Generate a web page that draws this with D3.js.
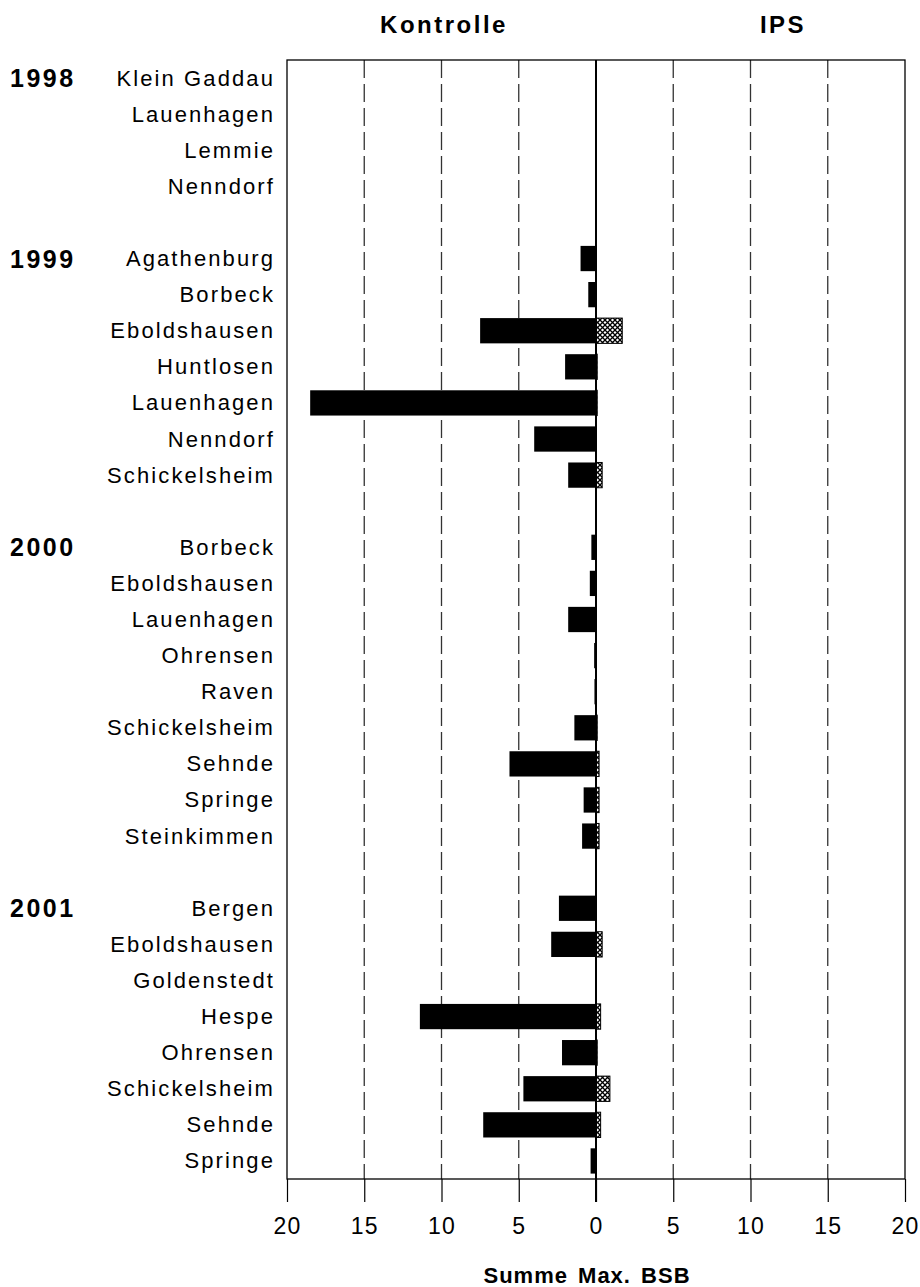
<!DOCTYPE html>
<html>
<head>
<meta charset="utf-8">
<script src="https://cdn.jsdelivr.net/npm/d3@7/dist/d3.min.js"></script>
<style>
  html, body { margin: 0; padding: 0; background: #fff; }
  svg { display: block; }
  text { font-family: "Liberation Sans", Arial, Helvetica, sans-serif; fill: #000; }
</style>
</head>
<body>
<svg id="chart" width="920" height="1287"></svg>
<script>
// ---- Data ----
const years = ["1998", "1999", "2000", "2001"];
const siteYears = [
  "1998","1998","1998","1998",
  "1999","1999","1999","1999","1999","1999","1999",
  "2000","2000","2000","2000","2000","2000","2000","2000","2000",
  "2001","2001","2001","2001","2001","2001","2001","2001"
];
const siteNames = [
  "Klein Gaddau","Lauenhagen","Lemmie","Nenndorf",
  "Agathenburg","Borbeck","Eboldshausen","Huntlosen","Lauenhagen","Nenndorf","Schickelsheim",
  "Borbeck","Eboldshausen","Lauenhagen","Ohrensen","Raven","Schickelsheim","Sehnde","Springe","Steinkimmen",
  "Bergen","Eboldshausen","Goldenstedt","Hespe","Ohrensen","Schickelsheim","Sehnde","Springe"
];
const kontrolle = [
  0, 0, 0, 0,
  1.0, 0.5, 7.5, 2.0, 18.5, 4.0, 1.8,
  0.3, 0.4, 1.8, 0.12, 0.1, 1.4, 5.6, 0.8, 0.9,
  2.4, 2.9, 0, 11.4, 2.2, 4.7, 7.3, 0.35
];
const ips = [
  0, 0, 0, 0,
  0, 0, 1.7, 0.08, 0.08, 0, 0.4,
  0, 0, 0, 0, 0, 0.08, 0.2, 0.2, 0.2,
  0, 0.4, 0, 0.3, 0.08, 0.9, 0.3, 0
];
const xTickValues = [-20, -15, -10, -5, 0, 5, 10, 15, 20];
const panelTitles = ["Kontrolle", "IPS"];
const axisTitle = "Summe Max. BSB";

// ---- Layout ----
const mLeft = 287, mRight = 905, mTop = 60, mBottom = 1179;
const svg = d3.select("#chart");

// slots: sites with an empty slot between year groups
const slots = [];
siteNames.forEach((name, i) => {
  if (i > 0 && siteYears[i] !== siteYears[i - 1]) slots.push("gap-" + i);
  slots.push("s-" + i);
});

const x = d3.scaleLinear().domain([-20, 20]).range([mLeft, mRight]);
const y = d3.scaleBand().domain(slots).range([mTop, mBottom]).paddingInner(0.3).paddingOuter(0.15);
const cy = id => y(id) + y.bandwidth() / 2;

// pattern
const defs = svg.append("defs");
const pat = defs.append("pattern").attr("id", "hatch").attr("patternUnits", "userSpaceOnUse")
  .attr("width", 5).attr("height", 5);
pat.append("rect").attr("width", 5).attr("height", 5).attr("fill", "#fff");
pat.append("path").attr("d", "M0,0L5,5M5,0L0,5").attr("stroke", "#000").attr("stroke-width", 1.3);

// dashed gridlines
svg.append("g").selectAll("line")
  .data(xTickValues.filter(v => v !== 0 && Math.abs(v) !== 20))
  .join("line")
  .attr("x1", d => x(d)).attr("x2", d => x(d))
  .attr("y1", mTop).attr("y2", mBottom)
  .attr("stroke", "#333").attr("stroke-width", 1.3)
  .attr("stroke-dasharray", "18,6");

// bottom axis
const axis = d3.axisBottom(x).tickValues(xTickValues)
  .tickFormat(d => Math.abs(d)).tickSize(23).tickPadding(16);
const gAxis = svg.append("g").attr("transform", `translate(0,${mBottom})`).call(axis);
gAxis.select(".domain").remove();
gAxis.selectAll(".tick line").attr("stroke", "#000").attr("stroke-width", 1.2);
gAxis.selectAll(".tick text").attr("font-size", 23).attr("letter-spacing", 1.2)
  .attr("font-family", "'Liberation Sans', Arial, sans-serif").attr("fill", "#000");

// frame
svg.append("rect").attr("x", mLeft).attr("y", mTop).attr("width", mRight - mLeft).attr("height", mBottom - mTop)
  .attr("fill", "none").attr("stroke", "#000").attr("stroke-width", 1.3);

// bars
const rows = siteNames.map((n, i) => ({ name: n, year: siteYears[i], k: kontrolle[i], p: ips[i], id: "s-" + i }));
svg.append("g").selectAll("rect")
  .data(rows.filter(d => d.k > 0))
  .join("rect")
  .attr("x", d => x(-d.k)).attr("width", d => x(0) - x(-d.k))
  .attr("y", d => y(d.id)).attr("height", y.bandwidth())
  .attr("fill", "#000");
svg.append("g").selectAll("rect")
  .data(rows.filter(d => d.p > 0))
  .join("rect")
  .attr("x", x(0)).attr("width", d => x(d.p) - x(0))
  .attr("y", d => y(d.id)).attr("height", y.bandwidth())
  .attr("fill", "url(#hatch)").attr("stroke", "#000").attr("stroke-width", 1);

// zero line
svg.append("line").attr("x1", x(0)).attr("x2", x(0)).attr("y1", mTop).attr("y2", mBottom + 23)
  .attr("stroke", "#000").attr("stroke-width", 2);

// site labels
svg.append("g").selectAll("text")
  .data(rows).join("text")
  .attr("x", 275).attr("y", d => cy(d.id))
  .attr("text-anchor", "end").attr("dominant-baseline", "central")
  .attr("font-size", 22).attr("letter-spacing", 2.1)
  .text(d => d.name);

// year labels
svg.append("g").selectAll("text")
  .data(years).join("text")
  .attr("x", 10).attr("y", yr => cy(rows.find(r => r.year === yr).id))
  .attr("dominant-baseline", "central")
  .attr("font-size", 25).attr("font-weight", "bold").attr("letter-spacing", 2.5)
  .text(d => d);

// panel titles
svg.selectAll("text.ptitle").data(panelTitles).join("text").attr("class", "ptitle")
  .attr("x", (d, i) => i === 0 ? 444 : 783).attr("y", 24)
  .attr("text-anchor", "middle").attr("dominant-baseline", "central")
  .attr("font-size", 24).attr("font-weight", "bold").attr("letter-spacing", 2.5)
  .text(d => d);

// axis title
svg.append("text").attr("x", 587).attr("y", 1275)
  .attr("text-anchor", "middle").attr("dominant-baseline", "central")
  .attr("font-size", 22).attr("font-weight", "bold").attr("letter-spacing", 1)
  .attr("word-spacing", 3)
  .text(axisTitle);
</script>
</body>
</html>
